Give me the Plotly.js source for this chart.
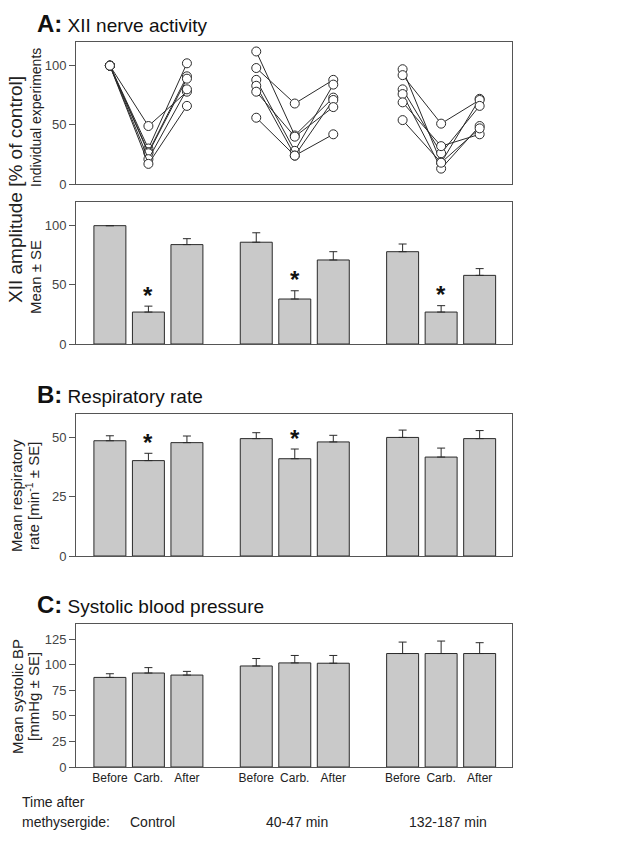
<!DOCTYPE html>
<html>
<head>
<meta charset="utf-8">
<script src="https://cdn.plot.ly/plotly-3.0.1.min.js"></script>
<style>html,body{margin:0;padding:0;background:#fff;}#chart{width:632px;height:841px;}</style>
</head>
<body>
<div id="chart"></div>
<script>
// ---------- data ----------
const groups = ["Control", "40-47 min", "132-187 min"];
const conditions = ["Before", "Carb.", "After"];

// Individual experiments: [Before, Carb., After] per experiment
const indivControl = [[100, 49, 78], [100, 30, 102], [100, 27, 91], [100, 26, 89], [100, 21, 80], [100, 17, 66]];
const indiv40to47 = [[112, 41, 73], [98, 68, 88], [88, 28, 84], [83, 24, 71], [78, 40, 65], [56, 24, 42]];
const indiv132to187 = [[97, 18, 72], [92, 51, 71], [80, 26, 66], [76, 13, 49], [69, 32, 42], [54, 18, 47]];

// XII amplitude, mean ± SE (order: Control B/C/A, 40-47 B/C/A, 132-187 B/C/A)
const xiiMean = [100, 27, 84, 86, 38, 71, 78, 27, 58];
const xiiSE = [0, 5, 5, 8, 7, 7, 6.5, 5.4, 5.7];
const xiiSig = [0, 1, 0, 0, 1, 0, 0, 1, 0];

// Respiratory rate
const rrMean = [48.7, 40.3, 47.9, 49.6, 41.1, 48.2, 50.1, 41.8, 49.6];
const rrSE = [2.1, 3.1, 2.8, 2.5, 4.1, 2.8, 3.1, 3.8, 3.4];
const rrSig = [0, 1, 0, 0, 1, 0, 0, 0, 0];

// Systolic blood pressure
const bpMean = [87.7, 92, 90, 98.9, 101.9, 101.6, 111.1, 111.1, 111.1];
const bpSE = [3.6, 5.3, 3.6, 7.3, 7.3, 7.6, 11.2, 12.2, 10.6];

// ---------- layout helpers ----------
const W = 632, H = 841;
const FONT = "Liberation Sans, Arial, sans-serif";
const GROUP_STEP = 3.8;
const pos = (g, c) => g * GROUP_STEP + c;
const allX = [];
groups.forEach((g, gi) => conditions.forEach((c, ci) => allX.push(pos(gi, ci))));
const px = v => v / W;
const py = v => 1 - v / H;

const barColor = "#c9c9c9", edge = "#2a2a2a";
const traces = [];

// individual experiment lines
[indivControl, indiv40to47, indiv132to187].forEach((set, gi) => {
  set.forEach(exp => {
    traces.push({
      type: "scatter", mode: "lines+markers", xaxis: "x", yaxis: "y",
      x: conditions.map((c, ci) => pos(gi, ci)), y: exp,
      line: {color: edge, width: 1},
      marker: {symbol: "circle", size: 9, color: "#ffffff", line: {color: edge, width: 1}},
      showlegend: false, hoverinfo: "skip"
    });
  });
});

function barTrace(means, se, xa, ya) {
  return {
    type: "bar", x: allX, y: means, xaxis: xa, yaxis: ya, width: 0.83,
    marker: {color: barColor, line: {color: edge, width: 1}},
    error_y: {type: "data", symmetric: false, array: se, arrayminus: se.map(() => 0),
              color: edge, thickness: 1, width: 4},
    showlegend: false, hoverinfo: "skip"
  };
}
traces.push(barTrace(xiiMean, xiiSE, "x2", "y2"));
traces.push(barTrace(rrMean, rrSE, "x3", "y3"));
traces.push(barTrace(bpMean, bpSE, "x4", "y4"));

const xdom = [px(76), px(512)];
const xRange = [-0.88, 10.44];
function xax(extra) {
  return Object.assign({
    domain: xdom, range: xRange, showline: true, mirror: true, linecolor: "#555", linewidth: 1,
    showgrid: false, zeroline: false, ticks: "", showticklabels: false, fixedrange: true
  }, extra || {});
}
function yax(dom, range, tickvals, anchor) {
  return {
    domain: dom, range: range, tickvals: tickvals, ticks: "outside", ticklen: 6, tickcolor: "#555",
    showline: true, mirror: true, linecolor: "#555", linewidth: 1, showgrid: false, zeroline: false,
    tickfont: {family: FONT, size: 13, color: "#444"}, anchor: anchor, fixedrange: true
  };
}

const annotations = [];
function ann(text, x, y, opts) {
  annotations.push(Object.assign({
    text: text, x: px(x), y: py(y), xref: "paper", yref: "paper", showarrow: false,
    font: {family: FONT, size: 15, color: "#222"}, xanchor: "center", yanchor: "middle"
  }, opts || {}));
}

// panel titles
ann('<span style="font-size:24px"><b>A:</b></span> XII nerve activity', 35, 24, {xanchor: "left", font: {family: FONT, size: 19, color: "#111"}});
ann('<span style="font-size:24px"><b>B:</b></span> Respiratory rate', 35, 394, {xanchor: "left", font: {family: FONT, size: 19, color: "#111"}});
ann('<span style="font-size:24px"><b>C:</b></span> Systolic blood pressure', 35, 604, {xanchor: "left", font: {family: FONT, size: 19, color: "#111"}});

// y titles
ann("XII amplitude [% of control]", 16, 190, {textangle: -90, font: {family: FONT, size: 19, color: "#222"}});
ann("Individual experiments", 36, 118, {textangle: -90, font: {family: FONT, size: 14, color: "#222"}});
ann("Mean ± SE", 36, 277, {textangle: -90, font: {family: FONT, size: 15, color: "#222"}});
ann("Mean respiratory", 17, 496, {textangle: -90});
ann("rate [min<sup>-1</sup> ± SE]", 33, 496, {textangle: -90});
ann("Mean systolic BP", 17, 697, {textangle: -90});
ann("[mmHg ± SE]", 33, 697, {textangle: -90});

// bottom labels
ann("Time after", 20, 802, {xanchor: "left", font: {family: FONT, size: 14, color: "#222"}});
ann("methysergide:", 20, 822, {xanchor: "left", font: {family: FONT, size: 14, color: "#222"}});
const groupLabelX = [152, 297, 448];
groups.forEach((g, i) => ann(g, groupLabelX[i], 822, {font: {family: FONT, size: 14, color: "#222"}}));

// significance asterisks
function stars(means, se, sig, xa, ya) {
  sig.forEach((s, i) => {
    if (!s) return;
    annotations.push({
      text: "<b>*</b>", x: allX[i], y: means[i] + se[i], xref: xa, yref: ya, showarrow: false,
      yanchor: "middle", yshift: 11, font: {family: FONT, size: 24, color: "#111"}
    });
  });
}
stars(xiiMean, xiiSE, xiiSig, "x2", "y2");
stars(rrMean, rrSE, rrSig, "x3", "y3");

const layout = {
  width: W, height: H, margin: {l: 0, r: 0, t: 0, b: 0}, paper_bgcolor: "#fff", plot_bgcolor: "#fff",
  showlegend: false, font: {family: FONT, color: "#222"},
  xaxis: xax({anchor: "y"}),
  xaxis2: xax({anchor: "y2"}),
  xaxis3: xax({anchor: "y3"}),
  xaxis4: xax({anchor: "y4", showticklabels: true, tickvals: allX,
               ticktext: allX.map((_, i) => conditions[i % 3]),
               tickfont: {family: FONT, size: 12, color: "#222"}}),
  yaxis: yax([py(184), py(42)], [0, 120], [0, 50, 100], "x"),
  yaxis2: yax([py(344), py(202)], [0, 120], [0, 50, 100], "x2"),
  yaxis3: yax([py(556), py(414)], [0, 60], [0, 25, 50], "x3"),
  yaxis4: yax([py(767), py(624)], [0, 140], [0, 25, 50, 75, 100, 125], "x4"),
  annotations: annotations,
  bargap: 0
};
Plotly.newPlot("chart", traces, layout, {staticPlot: true, displayModeBar: false});
</script>
</body>
</html>
